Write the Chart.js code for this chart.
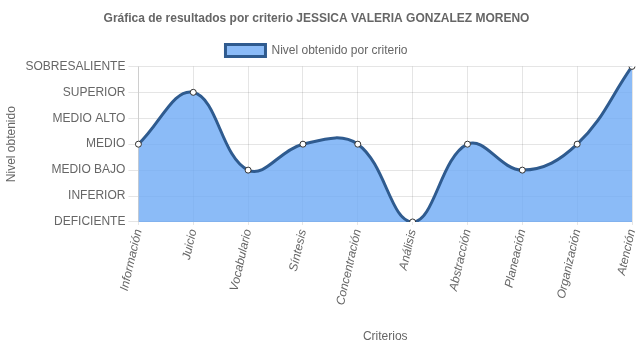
<!DOCTYPE html>
<html>
<head>
<meta charset="utf-8">
<script src="https://cdn.jsdelivr.net/npm/chart.js@4/dist/chart.umd.min.js"></script>
<style>
  html, body { margin: 0; padding: 0; background: #fff; }
  #wrap { width: 637px; height: 348px; }
</style>
</head>
<body>
<div id="wrap"><canvas id="resultados"></canvas></div>
<script>
  // Levels on the y-axis, lowest first (index = numeric value)
  var NIVELES = ["DEFICIENTE", "INFERIOR", "MEDIO BAJO", "MEDIO", "MEDIO ALTO", "SUPERIOR", "SOBRESALIENTE"];
  var CRITERIOS = ["Información", "Juicio", "Vocabulario", "Síntesis", "Concentración",
                   "Análisis", "Abstracción", "Planeación", "Organización", "Atención"];
  var NIVEL_OBTENIDO = [3, 5, 2, 3, 3, 0, 3, 2, 3, 6];

  var ALUMNO = "JESSICA VALERIA GONZALEZ MORENO";

  Chart.defaults.font.family = "'Liberation Sans', Arial, sans-serif";
  Chart.defaults.font.size = 12;
  Chart.defaults.color = "#666";

  new Chart(document.getElementById("resultados"), {
    type: "line",
    data: {
      labels: CRITERIOS,
      datasets: [{
        label: "Nivel obtenido por criterio",
        data: NIVEL_OBTENIDO,
        fill: true,
        tension: 0.4,
        backgroundColor: "rgba(110, 170, 245, 0.8)",
        borderColor: "#2f5b8f",
        borderWidth: 3,
        pointRadius: 3,
        pointBackgroundColor: "#fff",
        pointBorderColor: "#333",
        pointBorderWidth: 1
      }]
    },
    options: {
      responsive: true,
      maintainAspectRatio: false,
      animation: false,
      layout: { padding: { left: 0, right: 4, top: 2, bottom: 0 } },
      plugins: {
        title: {
          display: true,
          text: "Gráfica de resultados por criterio " + ALUMNO,
          font: { weight: "bold", size: 12 },
          padding: { top: 9, bottom: 13 }
        },
        legend: {
          labels: { boxWidth: 40, boxHeight: 12, padding: 6 }
        },
        tooltip: { enabled: false }
      },
      scales: {
        x: {
          title: { display: true, text: "Criterios", padding: { top: 20 } },
          ticks: { minRotation: 77, maxRotation: 77, font: { style: "italic" } },
          grid: { color: "rgba(0,0,0,0.1)", tickLength: 3 },
          // let the rotated last label hang past the plot edge
          afterFit: function (scale) { scale.paddingRight = 0; }
        },
        y: {
          min: 0,
          max: 6,
          title: { display: true, text: "Nivel obtenido" },
          ticks: {
            stepSize: 1,
            callback: function (v) { return NIVELES[v]; }
          },
          grid: { color: "rgba(0,0,0,0.1)", tickLength: 10 }
        }
      }
    }
  });
</script>
</body>
</html>
